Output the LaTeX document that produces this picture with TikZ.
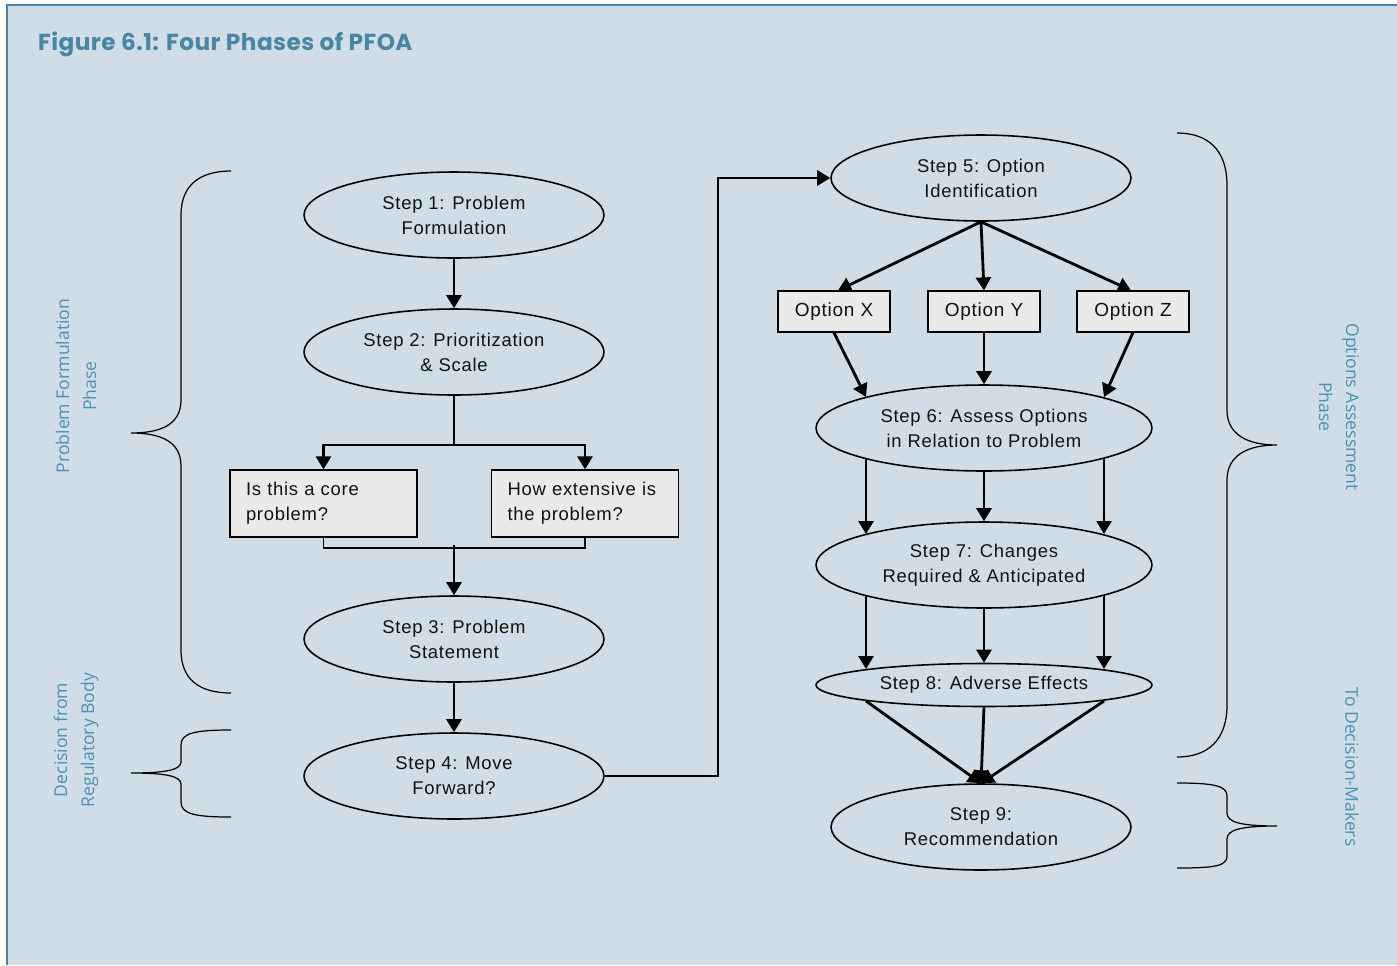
\documentclass[tikz,border=0pt]{standalone}
\usepackage{fontspec}
\setmainfont{Liberation Sans}[LetterSpace=4]
\newfontfamily\titlefont{Poppins}[LetterSpace=2]
\newfontfamily\sidefont{Open Sans}
\usetikzlibrary{arrows.meta,calc,shapes.geometric}
\definecolor{bg}{RGB}{208,221,230}
\definecolor{frame}{RGB}{72,134,164}
\definecolor{side}{RGB}{75,145,180}
\definecolor{boxfill}{RGB}{234,234,234}
\definecolor{ink}{RGB}{17,17,17}
\tikzset{
  stepell/.style={ellipse, draw=black, line width=0.9pt, minimum width=6cm, minimum height=1.72cm, inner sep=0pt, align=center, text=ink, font=\fontsize{10.5}{14.2}\selectfont},
  wideell/.style={stepell, minimum width=6.72cm},
  qbox/.style={rectangle, draw=black, line width=0.7pt, fill=boxfill, minimum height=1.34cm, text width=3.1cm, inner xsep=0.32cm, align=left, text=ink, font=\fontsize{10.5}{14.2}\selectfont},
  obox/.style={rectangle, draw=black, line width=0.7pt, fill=boxfill, minimum width=2.24cm, minimum height=0.82cm, inner sep=0pt, text=ink, font=\fontsize{10.8}{14.2}\selectfont},
  arr/.style={line width=1.6pt, -{Triangle[length=0.26cm,width=0.3cm]}},
  thinline/.style={line width=0.9pt},
  brace/.style={line width=0.7pt, black},
  sidelab/.style={text=side, align=center, font=\sidefont\fontsize{10}{15.3}\selectfont},
}
\begin{document}
\begin{tikzpicture}[x=0.02cm,y=-0.02cm]
\useasboundingbox (0,0) rectangle (1397,965);
\fill[white] (0,0) rectangle (1397,965);
\fill[bg] (7,5) rectangle (1397,965);
\draw[frame, line width=1.6pt] (7,965) -- (7,5) -- (1397,5);

\node[anchor=west, text=frame, font=\titlefont\bfseries\fontsize{13.2}{15}\selectfont] (title) at (32,44) {Figure 6.1: Four Phases of PFOA};

% left column
\node[stepell] (s1) at (454,215) {Step 1: Problem\\Formulation};
\node[stepell] (s2) at (454,352) {Step 2: Prioritization\\\& Scale};
\node[qbox] (q1) at (323.5,503.5) {Is this a core\\problem?};
\node[qbox] (q2) at (585,503.5) {\mbox{How extensive is}\\the problem?};
\node[stepell] (s3) at (454,639) {Step 3: Problem\\Statement};
\node[stepell] (s4) at (454,776) {Step 4: Move\\Forward?};

% right column
\node[stepell] (s5) at (981,178) {Step 5: Option\\Identification};
\node[obox] (ox) at (834,311.5) {Option X};
\node[obox] (oy) at (984,311.5) {Option Y};
\node[obox] (oz) at (1133,311.5) {Option Z};
\node[wideell] (s6) at (984,428) {Step 6: Assess Options\\in Relation to Problem};
\node[wideell] (s7) at (984,565) {Step 7: Changes\\Required \& Anticipated};
\node[wideell, minimum height=0.86cm] (s8) at (984,685) {Step 8: Adverse Effects};
\node[stepell] (s9) at (981,827) {Step 9:\\Recommendation};

% connectors left
\draw[arr] (s1.south) -- (s2.north);
\coordinate (j2) at (454,445);
\draw[thinline] (s2.south) -- (j2);
\draw[arr] (j2) -| (q1.north);
\draw[arr] (j2) -| (q2.north);
\coordinate (j3) at (454,548);
\draw[thinline] (q1.south) |- (j3) -| (q2.south);
\draw[arr] ($(j3)+(0,-3)$) -- (s3.north);
\draw[arr] (s3.south) -- (s4.north);
\coordinate (j4) at (718,776);
\draw[arr] (s4.east) -- (j4) |- (s5.west);

% connectors right
\draw[arr] (s5.south) -- ($(ox.north)+(4,0)$);
\draw[arr] (s5.south) -- (oy.north);
\draw[arr] (s5.south) -- ($(oz.north)+(-2,0)$);
\coordinate (s6nw) at ($(s6.center)+(-118,-31)$);
\coordinate (s6ne) at ($(s6.center)+(120,-31)$);
\coordinate (s6sw) at ($(s6.center)+(-118,31)$);
\coordinate (s6se) at ($(s6.center)+(120,31)$);
\coordinate (s7nw) at ($(s7.center)+(-118,-31)$);
\coordinate (s7ne) at ($(s7.center)+(120,-31)$);
\coordinate (s7sw) at ($(s7.center)+(-118,31)$);
\coordinate (s7se) at ($(s7.center)+(120,31)$);
\coordinate (s8nw) at ($(s8.center)+(-118,-16)$);
\coordinate (s8ne) at ($(s8.center)+(120,-16)$);
\coordinate (s8sw) at ($(s8.center)+(-118,16)$);
\coordinate (s8se) at ($(s8.center)+(120,16)$);
\draw[arr] (ox.south) -- (s6nw);
\draw[arr] (oy.south) -- (s6.north);
\draw[arr] (oz.south) -- (s6ne);
\draw[arr] (s6sw) -- (s7nw);
\draw[arr] (s6.south) -- (s7.north);
\draw[arr] (s6se) -- (s7ne);
\draw[arr] (s7sw) -- (s8nw);
\draw[arr] (s7.south) -- (s8.north);
\draw[arr] (s7se) -- (s8ne);
\draw[arr] (s8sw) -- (s9.north);
\draw[arr] (s8.south) -- (s9.north);
\draw[arr] (s8se) -- (s9.north);

% braces
\draw[brace] (231,171) .. controls (200,171) and (181,185) .. (181,215) -- (181,400) .. controls (181,425) and (160,433) .. (131,433) .. controls (160,433) and (181,441) .. (181,466) -- (181,650) .. controls (181,680) and (200,693) .. (231,693);
\draw[brace] (231,730) .. controls (195,730) and (181,733) .. (181,745) -- (181,762) .. controls (181,770) and (165,773) .. (131,773) .. controls (165,773) and (181,776) .. (181,784) -- (181,802) .. controls (181,814) and (195,817) .. (231,817);
\draw[brace] (1177,133) .. controls (1208,133) and (1227,150) .. (1227,185) -- (1227,410) .. controls (1227,435) and (1248,445) .. (1277,445) .. controls (1248,445) and (1227,455) .. (1227,480) -- (1227,705) .. controls (1227,740) and (1208,757) .. (1177,757);
\draw[brace] (1177,783) .. controls (1215,783) and (1227,786) .. (1227,796) -- (1227,813) .. controls (1227,822) and (1240,826) .. (1277,826) .. controls (1240,826) and (1227,830) .. (1227,839) -- (1227,856) .. controls (1227,866) and (1215,868) .. (1177,868);

% side labels
\node[sidelab, rotate=90] (lab1) at (76,386) {Problem Formulation\\Phase};
\node[sidelab, rotate=90] (lab2) at (76,740) {Decision from\\Regulatory Body};
\node[sidelab, rotate=-90] (lab3) at (1339,407) {Options Assessment\\Phase};
\node[sidelab, rotate=-90] (lab4) at (1352,767) {To Decision-Makers};
\end{tikzpicture}
\end{document}
